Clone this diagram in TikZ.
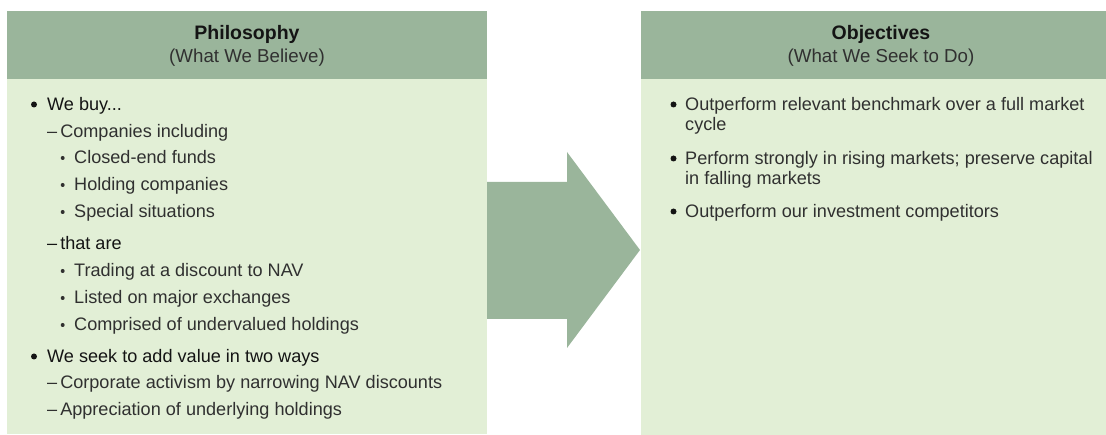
\documentclass[tikz,border=0pt]{standalone}
\usepackage{fontspec}
\setmainfont{Liberation Sans}
\definecolor{hdr}{RGB}{154,181,155}
\definecolor{bdy}{RGB}{226,239,214}
\definecolor{txt}{RGB}{48,48,48}
\definecolor{txtd}{RGB}{20,20,20}
\begin{document}
\begin{tikzpicture}[x=1pt,y=-1pt,
  tx/.style={anchor=base west,inner sep=0pt,text=txt,font=\fontsize{18.1}{20}\selectfont},
  txd/.style={tx,text=txtd},
  ttl/.style={anchor=base,inner sep=0pt,text=txtd,font=\fontsize{19.5}{21}\selectfont\bfseries},
  sub/.style={anchor=base,inner sep=0pt,text=txt,font=\fontsize{18.7}{20}\selectfont},
  bul/.style={circle,fill=txtd,inner sep=0pt,minimum size=6pt},
  sbul/.style={circle,fill=txt,inner sep=0pt,minimum size=4pt}]
\useasboundingbox (0,0) rectangle (1106,435);
% left box
\fill[bdy] (7,79) rectangle (487,434);
\fill[hdr] (7,11) rectangle (487,79);
% right box
\fill[bdy] (641,79) rectangle (1106,435);
\fill[hdr] (641,11) rectangle (1106,79);
% arrow
\fill[hdr] (487,182) -- (567,182) -- (567,152) -- (640,250) -- (567,348) -- (567,319) -- (487,319) -- cycle;
% left header
\node[ttl] (lt) at (247,40) {Philosophy};
\node[sub] (ls) at (247,63) {(What We Believe)};
% left items
\node[bul] (b1) at (34,104.5) {};
\node[txd] (t1) at (47,111) {We buy...};
\node[tx] (t2) at (47,137.5) {–\,Companies including};
\node[sbul] (b3) at (62.7,158) {};
\node[tx] (t3) at (74,164) {Closed-end funds};
\node[sbul] (b4) at (62.7,185) {};
\node[tx] (t4) at (74,191) {Holding companies};
\node[sbul] (b5) at (62.7,212) {};
\node[tx] (t5) at (74,218) {Special situations};
\node[txd] (t6) at (47,250) {–\,that are};
\node[sbul] (b7) at (62.7,271) {};
\node[tx] (t7) at (74,277) {Trading at a discount to NAV};
\node[sbul] (b8) at (62.7,298) {};
\node[tx] (t8) at (74,304) {Listed on major exchanges};
\node[sbul] (b9) at (62.7,325) {};
\node[tx] (t9) at (74,331) {Comprised of undervalued holdings};
\node[bul] (b10) at (34,356.5) {};
\node[txd] (t10) at (47,363) {We seek to add value in two ways};
\node[tx] (t11) at (47,389) {–\,Corporate activism by narrowing NAV discounts};
\node[tx] (t12) at (47,416) {–\,Appreciation of underlying holdings};
% right header
\node[ttl] (rt) at (881,40) {Objectives};
\node[sub] (rs) at (881,63) {(What We Seek to Do)};
% right items
\node[bul] (r1b) at (673.5,104.5) {};
\node[tx] (r1) at (685,111) {Outperform relevant benchmark over a full market};
\node[tx] (r1c) at (685,131) {cycle};
\node[bul] (r2b) at (673.5,158.5) {};
\node[tx] (r2) at (685,165) {Perform strongly in rising markets; preserve capital};
\node[tx] (r2c) at (685,185) {in falling markets};
\node[bul] (r3b) at (673.5,211.5) {};
\node[tx] (r3) at (685,218) {Outperform our investment competitors};
\end{tikzpicture}
\end{document}
